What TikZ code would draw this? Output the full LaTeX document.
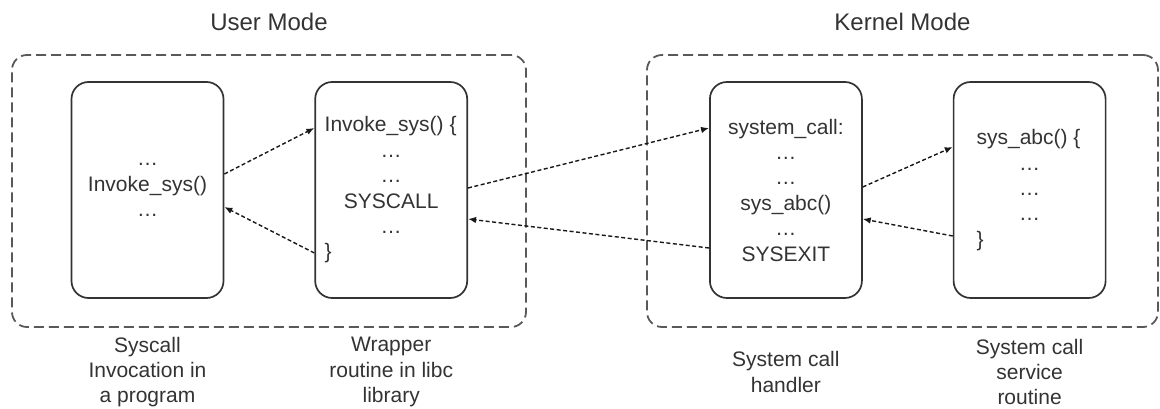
\documentclass[tikz,border=0pt]{standalone}
\usepackage{fontspec}
\setmainfont{Liberation Sans}
\usetikzlibrary{positioning, arrows.meta}

\begin{document}
\begin{tikzpicture}[
        x=1pt, y=1pt,
        every node/.style={font=\fontsize{21}{25.4}\selectfont, text=black!80},
        codebox/.style={rectangle, rounded corners=17pt, draw=black!80, line width=1.7pt, minimum width=152pt, minimum height=216pt, align=center, inner sep=0pt},
        modebox/.style={rectangle, rounded corners=15pt, draw=black!65, line width=1.8pt, dash pattern=on 10pt off 5pt, minimum height=272pt},
        modetitle/.style={font=\fontsize{24}{28}\selectfont},
        caption/.style={align=center, inner sep=0pt},
        callarrow/.style={-{Latex[length=8pt, width=6.5pt]}, line width=1.4pt, black!90, dash pattern=on 4pt off 2.5pt}
    ]
        \useasboundingbox (0,0) rectangle (1160,408);
        % Mode frames
        \node[modebox, minimum width=514pt] (user) at (269,217) {};
        \node[modebox, minimum width=511pt] (kernel) at (902.5,217) {};
        \node[modetitle] (usertitle) at ([yshift=32pt]user.north) {User Mode};
        \node[modetitle] (kerneltitle) at ([yshift=32pt]kernel.north) {Kernel Mode};
        % Code boxes
        \node[codebox] (prog) at (147.5,218) {…\\ Invoke\_sys()\\ …};
        \node[codebox, right=90pt of prog] (wrap) {\makebox[133pt][l]{Invoke\_sys() \{}\\ …\\ …\\ SYSCALL\\ …\\ \makebox[133pt][l]{\}}};
        \node[codebox, right=241pt of wrap] (handler) {system\_call:\\ …\\ …\\ sys\_abc()\\ …\\ SYSEXIT};
        \node[codebox, right=90pt of handler] (service) {\makebox[106pt][l]{sys\_abc() \{}\\ …\\ …\\ …\\ \makebox[106pt][l]{\}}};
        % Captions
        \coordinate (capline) at (0,36);
        \node[caption] (progcap) at (prog |- capline) {Syscall\\ Invocation in\\ a program};
        \node[caption] (wrapcap) at (wrap |- capline) {Wrapper\\ routine in libc\\ library};
        \node[caption] (handlercap) at (handler |- capline) {System call\\ handler};
        \node[caption] (servicecap) at (service |- capline) {System call\\ service\\ routine};
        % Calls and returns
        \draw[callarrow] ([yshift=16pt]prog.east) -- ([yshift=62pt]wrap.west);
        \draw[callarrow] ([yshift=-63pt]wrap.west) -- ([yshift=-17pt]prog.east);
        \draw[callarrow] ([yshift=2pt]wrap.east) -- ([yshift=62pt]handler.west);
        \draw[callarrow] ([yshift=-58pt]handler.west) -- ([yshift=-29pt]wrap.east);
        \draw[callarrow] ([yshift=3pt]handler.east) -- ([yshift=43pt]service.west);
        \draw[callarrow] ([yshift=-46pt]service.west) -- ([yshift=-29pt]handler.east);
\end{tikzpicture}
\end{document}
